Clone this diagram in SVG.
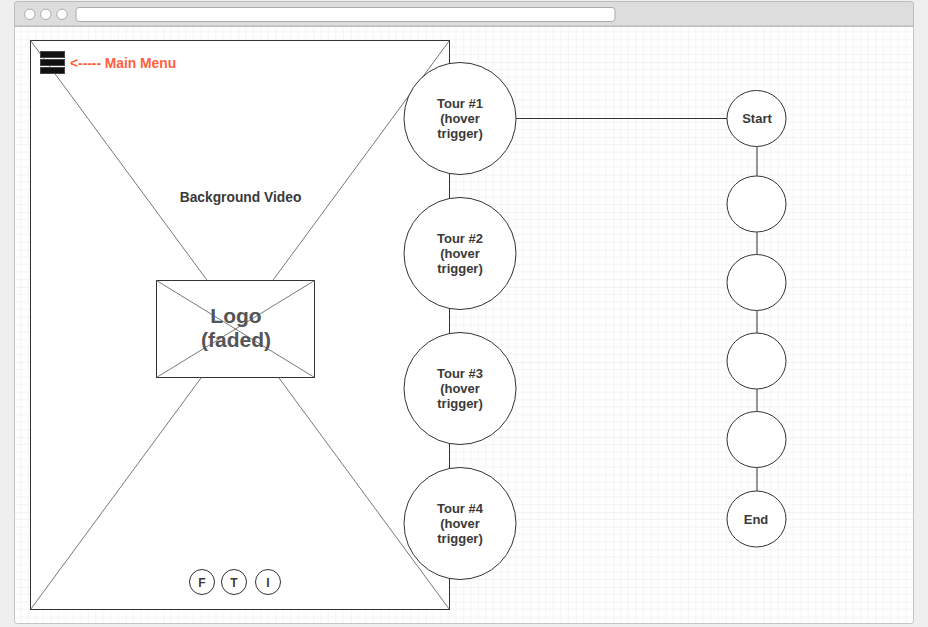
<svg xmlns="http://www.w3.org/2000/svg" width="928" height="627" viewBox="0 0 928 627">
<style>
.t{font-family:"Liberation Sans",Arial,sans-serif;font-weight:bold;fill:#3a3a3a;text-anchor:middle}
.s{font-size:13px}
.m{font-size:13.8px}
.shape{fill:#fff;stroke:#333;stroke-width:1}
.x{stroke:#555;stroke-width:0.8;fill:none}
.conn{stroke:#333;stroke-width:1;fill:none}
</style>
<defs>
<pattern id="grid" patternUnits="userSpaceOnUse" x="13.3" y="24.5" width="37.5" height="37.5">
<path d="M7.5 0V37.5M15 0V37.5M22.5 0V37.5M30 0V37.5M0 7.5H37.5M0 15H37.5M0 22.5H37.5M0 30H37.5" stroke="#f4f4f4" stroke-width="1" fill="none"/>
<path d="M0 0V37.5M0 0H37.5" stroke="#e8e8e8" stroke-width="1" fill="none"/>
</pattern>
</defs>
<rect width="928" height="627" fill="#efefef"/>
<g id="browser">
<rect x="14.5" y="1.5" width="899" height="622" rx="3" fill="#fff" stroke="#c4c4c4"/>
<rect x="15" y="27" width="898" height="596" fill="url(#grid)"/>
<path d="M14.5 26V4.5a3 3 0 0 1 3-3H910.5a3 3 0 0 1 3 3V26Z" fill="#dddddd" stroke="#bdbdbd"/>
<line x1="15" y1="26.5" x2="913" y2="26.5" stroke="#bdbdbd"/>
<circle cx="29.8" cy="14.3" r="5.2" fill="#fff" stroke="#aaa"/>
<circle cx="45.8" cy="14.3" r="5.2" fill="#fff" stroke="#aaa"/>
<circle cx="62" cy="14.3" r="5.2" fill="#fff" stroke="#aaa"/>
<rect x="76" y="7.5" width="539" height="14" rx="3" fill="#fff" stroke="#aaa"/>
</g>
<g id="background-video">
<rect class="shape" x="30.5" y="40.5" width="419" height="569"/>
<line class="x" x1="30.5" y1="40.5" x2="449.5" y2="609.5"/>
<line class="x" x1="449.5" y1="40.5" x2="30.5" y2="609.5"/>
<text class="t m" x="240.5" y="202">Background Video</text>
</g>
<g id="main-menu">
<rect x="40.5" y="51.5" width="24" height="6" fill="#111" stroke="#444"/>
<rect x="40.5" y="59.5" width="24" height="6" fill="#111" stroke="#444"/>
<rect x="40.5" y="67.5" width="24" height="6" fill="#111" stroke="#444"/>
<text class="t m" x="70" y="68" style="text-anchor:start;fill:#ff5f3f">&lt;----- Main Menu</text>
</g>
<g id="logo">
<rect class="shape" x="156.5" y="280.5" width="158" height="97"/>
<line class="x" x1="156.5" y1="280.5" x2="314.5" y2="377.5"/>
<line class="x" x1="314.5" y1="280.5" x2="156.5" y2="377.5"/>
<text class="t" x="236" y="323" style="font-size:21px;fill:#555">Logo</text>
<text class="t" x="236" y="346.5" style="font-size:21px;fill:#555">(faded)</text>
</g>
<g id="social-f"><circle class="shape" cx="202" cy="582" r="12.5"/><text class="t" x="202" y="586.5" style="font-size:12px">F</text></g>
<g id="social-t"><circle class="shape" cx="234" cy="582" r="12.5"/><text class="t" x="234" y="586.5" style="font-size:12px">T</text></g>
<g id="social-i"><circle class="shape" cx="268" cy="582" r="12.5"/><text class="t" x="268" y="586.5" style="font-size:12px">I</text></g>
<g id="connectors">
<line class="conn" x1="516" y1="118.5" x2="727" y2="118.5"/>
<line class="conn" x1="757" y1="146" x2="757" y2="491"/>
</g>
<g id="tour1"><circle class="shape" cx="460" cy="118.5" r="56"/>
<text class="t s" x="460" y="108">Tour #1</text><text class="t s" x="460" y="123">(hover</text><text class="t s" x="460" y="138">trigger)</text></g>
<g id="tour2"><circle class="shape" cx="460" cy="253.5" r="56"/>
<text class="t s" x="460" y="243">Tour #2</text><text class="t s" x="460" y="258">(hover</text><text class="t s" x="460" y="273">trigger)</text></g>
<g id="tour3"><circle class="shape" cx="460" cy="388.5" r="56"/>
<text class="t s" x="460" y="378">Tour #3</text><text class="t s" x="460" y="393">(hover</text><text class="t s" x="460" y="408">trigger)</text></g>
<g id="tour4"><circle class="shape" cx="460" cy="523.5" r="56"/>
<text class="t s" x="460" y="513">Tour #4</text><text class="t s" x="460" y="528">(hover</text><text class="t s" x="460" y="543">trigger)</text></g>
<g id="start"><ellipse class="shape" cx="756.5" cy="118.5" rx="29.5" ry="28"/><text class="t s" x="757" y="123">Start</text></g>
<g id="step1"><ellipse class="shape" cx="756.5" cy="204" rx="29.5" ry="28"/></g>
<g id="step2"><ellipse class="shape" cx="756.5" cy="282.5" rx="29.5" ry="28"/></g>
<g id="step3"><ellipse class="shape" cx="756.5" cy="361" rx="29.5" ry="28"/></g>
<g id="step4"><ellipse class="shape" cx="756.5" cy="439.5" rx="29.5" ry="28"/></g>
<g id="end"><ellipse class="shape" cx="756.5" cy="519" rx="29.5" ry="28"/><text class="t s" x="756" y="523.5">End</text></g>
</svg>
